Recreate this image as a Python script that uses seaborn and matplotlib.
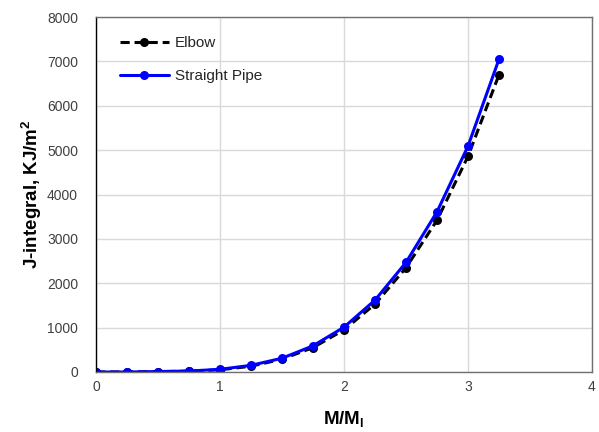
import matplotlib
matplotlib.use("Agg")
import matplotlib.pyplot as plt
import seaborn as sns
import pandas as pd

ratio = [0, 0.25, 0.5, 0.75, 1.0, 1.25, 1.5, 1.75, 2.0, 2.25, 2.5, 2.75, 3.0, 3.25]
elbow = [0, 0, 8, 18, 50, 130, 290, 550, 950, 1530, 2350, 3420, 4860, 6700]
straight = [0, 0, 10, 22, 60, 150, 310, 590, 1010, 1620, 2470, 3610, 5090, 7050]

sns.set_theme(style="white")
plt.rcParams['font.family'] = ['Liberation Sans', 'DejaVu Sans']

fig = plt.figure(figsize=(5.99, 4.32), dpi=100)
ax = fig.add_axes([0.1603, 0.1389, 0.8280, 0.8217])

df_e = pd.DataFrame({"x": ratio, "y": elbow})
df_s = pd.DataFrame({"x": ratio, "y": straight})

sns.lineplot(data=df_e, x="x", y="y", ax=ax, color="black", linestyle=(0, (3, 1.6)),
             linewidth=2.2, marker="o", markersize=6.5, markeredgewidth=0, label="Elbow")
sns.lineplot(data=df_s, x="x", y="y", ax=ax, color="#0000ff", linewidth=2.2,
             marker="o", markersize=6.5, markeredgewidth=0, label="Straight Pipe")

ax.set_xlim(0, 4)
ax.set_ylim(0, 8000)
ax.set_xticks([0, 1, 2, 3, 4])
ax.set_yticks(range(0, 8001, 1000))
ax.grid(True, color="#d9d9d9", linewidth=1)
ax.set_axisbelow(True)
for s in ["top", "right", "bottom"]:
    ax.spines[s].set_color("#707070")
    ax.spines[s].set_linewidth(1)
ax.spines["left"].set_color("black")
ax.spines["left"].set_linewidth(1)
ax.tick_params(axis="both", labelsize=10, colors="#404040", length=0)
ax.tick_params(axis="y", pad=13)
ax.tick_params(axis="x", pad=6)
ax.set_xlabel("M/M$_\\mathregular{l}$", fontsize=13.5, fontweight="bold", color="black", labelpad=11)
ax.set_ylabel("J-integral, KJ/m$^\\mathregular{2}$", fontsize=13.5, fontweight="bold", color="black", labelpad=2)

leg = ax.legend(loc="upper left", frameon=False, fontsize=11, labelspacing=1.25,
                handlelength=3.2, handletextpad=0.4, bbox_to_anchor=(0.02, 0.985))

fig.savefig("out.png", dpi=100)
